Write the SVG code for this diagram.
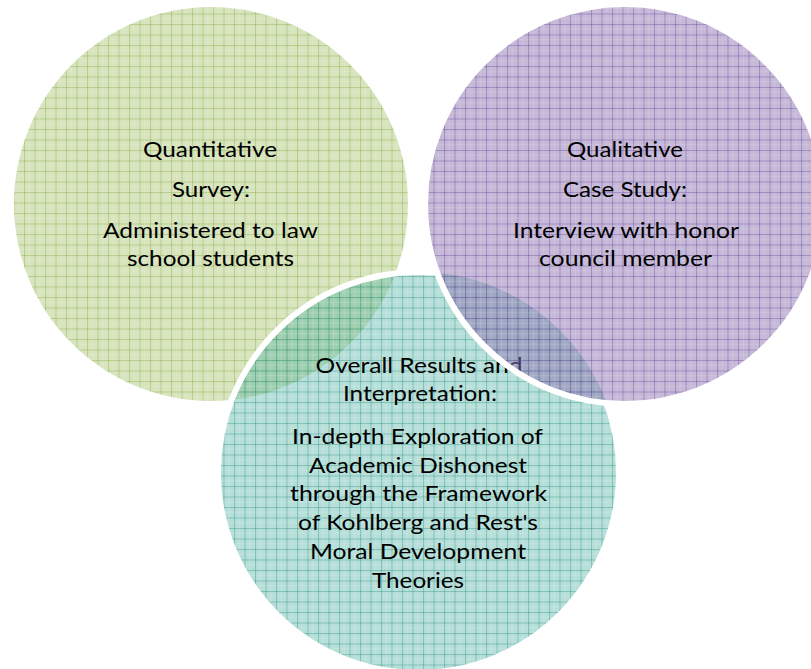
<svg xmlns="http://www.w3.org/2000/svg" width="811" height="669" viewBox="0 0 811 669">
  <style>
    .t { font-family: Lato, "Open Sans", "Liberation Sans", sans-serif; font-size: 21px; fill: #000; text-anchor: middle; }
  </style>
  <defs>
    <pattern id="gridG" patternUnits="userSpaceOnUse" x="3" y="3" width="10.5" height="10.5">
      <rect width="10.5" height="10.5" fill="#9bbb59" fill-opacity="0.40"/>
      <rect x="0" y="0" width="10.5" height="1" fill="#8fb24e" fill-opacity="0.45"/>
      <rect x="0" y="0" width="1" height="10.5" fill="#8fb24e" fill-opacity="0.45"/>
      <rect x="5" y="0" width="0.6" height="10.5" fill="#ffffff" fill-opacity="0.2"/>
      <rect x="0" y="5" width="10.5" height="0.6" fill="#ffffff" fill-opacity="0.2"/>
    </pattern>
    <pattern id="gridT" patternUnits="userSpaceOnUse" x="3" y="3" width="10.5" height="10.5">
      <rect width="10.5" height="10.5" fill="#4aaea0" fill-opacity="0.40"/>
      <rect x="0" y="0" width="10.5" height="1" fill="#3a9c8c" fill-opacity="0.45"/>
      <rect x="0" y="0" width="1" height="10.5" fill="#3a9c8c" fill-opacity="0.45"/>
      <rect x="5" y="0" width="0.6" height="10.5" fill="#ffffff" fill-opacity="0.2"/>
      <rect x="0" y="5" width="10.5" height="0.6" fill="#ffffff" fill-opacity="0.2"/>
    </pattern>
    <pattern id="gridP" patternUnits="userSpaceOnUse" x="3" y="3" width="10.5" height="10.5">
      <rect width="10.5" height="10.5" fill="#876dad" fill-opacity="0.48"/>
      <rect x="0" y="0" width="10.5" height="1" fill="#6e52a0" fill-opacity="0.45"/>
      <rect x="0" y="0" width="1" height="10.5" fill="#6e52a0" fill-opacity="0.45"/>
      <rect x="5" y="0" width="0.6" height="10.5" fill="#ffffff" fill-opacity="0.2"/>
      <rect x="0" y="5" width="10.5" height="0.6" fill="#ffffff" fill-opacity="0.2"/>
    </pattern>
    <mask id="outsidePurple" maskUnits="userSpaceOnUse" x="0" y="0" width="811" height="669">
      <rect x="0" y="0" width="811" height="669" fill="#fff"/>
      <circle cx="625" cy="204" r="200" fill="#000"/>
    </mask>
  </defs>
  <rect width="811" height="669" fill="#ffffff"/>

  <g id="quantitative">
    <circle cx="211" cy="204" r="197" fill="url(#gridG)"/>
    <text class="t" x="210" y="157" textLength="134" lengthAdjust="spacingAndGlyphs">Quantitative</text>
    <text class="t" x="211" y="197" textLength="78" lengthAdjust="spacingAndGlyphs">Survey:</text>
    <text class="t" x="210.5" y="238" textLength="215" lengthAdjust="spacingAndGlyphs">Administered to law</text>
    <text class="t" x="210.5" y="266" textLength="167" lengthAdjust="spacingAndGlyphs">school students</text>
  </g>

  <g id="overall">
    <circle cx="418.5" cy="472.5" r="200.5" fill="url(#gridT)"/>
    <circle cx="418.5" cy="472.5" r="200.5" fill="none" stroke="#ffffff" stroke-width="6" mask="url(#outsidePurple)"/>
    <text class="t" x="419" y="373" textLength="207" lengthAdjust="spacingAndGlyphs">Overall Results and</text>
    <text class="t" x="420" y="401" textLength="154" lengthAdjust="spacingAndGlyphs">Interpretation:</text>
    <text class="t" x="417.5" y="444" textLength="251" lengthAdjust="spacingAndGlyphs">In-depth Exploration of</text>
    <text class="t" x="418" y="472.5" textLength="218" lengthAdjust="spacingAndGlyphs">Academic Dishonest</text>
    <text class="t" x="418.5" y="501" textLength="257" lengthAdjust="spacingAndGlyphs">through the Framework</text>
    <text class="t" x="418" y="530" textLength="240" lengthAdjust="spacingAndGlyphs">of Kohlberg and Rest's</text>
    <text class="t" x="418" y="559" textLength="216" lengthAdjust="spacingAndGlyphs">Moral Development</text>
    <text class="t" x="418" y="588" textLength="92" lengthAdjust="spacingAndGlyphs">Theories</text>
  </g>

  <g id="qualitative">
    <circle cx="625" cy="204" r="200" fill="url(#gridP)" stroke="#ffffff" stroke-width="6"/>
    <text class="t" x="625" y="157" textLength="116" lengthAdjust="spacingAndGlyphs">Qualitative</text>
    <text class="t" x="625" y="197" textLength="124" lengthAdjust="spacingAndGlyphs">Case Study:</text>
    <text class="t" x="626" y="238" textLength="226" lengthAdjust="spacingAndGlyphs">Interview with honor</text>
    <text class="t" x="625.5" y="266" textLength="173" lengthAdjust="spacingAndGlyphs">council member</text>
  </g>

  <g id="connectors"></g>
</svg>
